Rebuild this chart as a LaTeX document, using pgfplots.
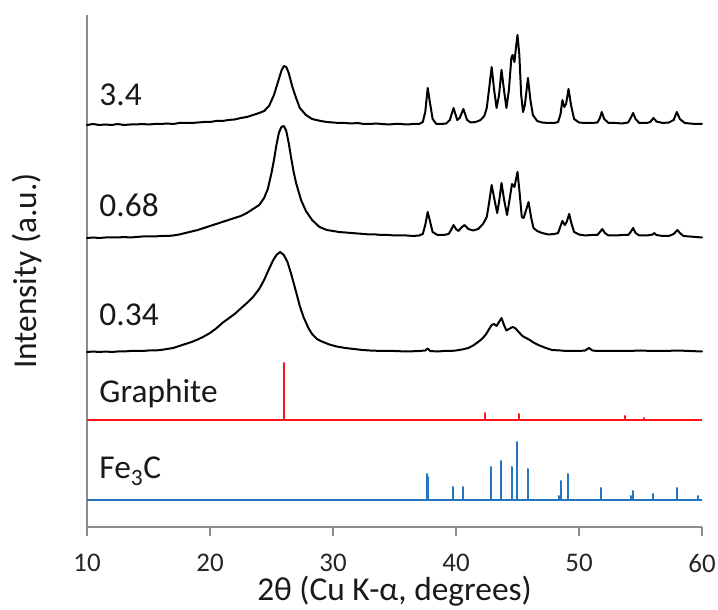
\documentclass[border=0pt]{standalone}
\usepackage{pgfplots}
\pgfplotsset{compat=1.18}
\usepackage{fontspec}
\setmainfont{Carlito}
\definecolor{fered}{RGB}{255,20,30}
\definecolor{feblue}{RGB}{36,117,196}
\definecolor{axgray}{RGB}{140,140,140}
\begin{document}
\begin{tikzpicture}
\useasboundingbox (0,0) rectangle (718bp,610bp);
\begin{axis}[
  at={(87bp,83bp)}, anchor=south west,
  scale only axis, width=615bp, height=512bp,
  xmin=10, xmax=60, ymin=83, ymax=595,
  axis x line*=bottom, axis y line*=left,
  axis line style={-, draw=axgray, line width=1.5bp},
  ytick=\empty,
  xtick={10,20,30,40,50,60},
  tick align=outside, major tick length=9bp,
  tick style={draw=axgray, line width=1.5bp},
  /pgf/number format/assume math mode=true,
  xticklabel style={font=\fontsize{27}{27}\selectfont, text=black!85, anchor=north, inner sep=0pt, yshift=-18bp},
  xlabel={2θ (Cu K-α, degrees)},
  xlabel style={font=\fontsize{33.5}{33.5}\selectfont, text=black!90, at={(axis description cs:0.5,-0.1445)}, anchor=base},
  ylabel={Intensity (a.u.)},
  ylabel style={font=\fontsize{33.5}{33.5}\selectfont, text=black!90, at={(axis description cs:-0.0821,0.5)}, anchor=base},
  clip=false,
  every axis plot/.append style={line join=round, line cap=round},
]
% 3.4
\addplot[black, line width=2bp] table {
x y
10 485
10.5 486
11 485
11.5 485.5
12 485
12.5 486
13 485
13.5 485.5
14 485.5
14.5 486
15 485.5
15.5 486
16 486
16.5 486.5
17 486
17.5 487
18 487
18.5 487
19 487.5
19.5 488
20 488
20.5 489
21 489
21.5 490
22 490.5
22.5 492
23 493
23.5 495
24 497
24.4 499
24.8 504
25.2 515
25.5 527
25.8 539
26.0 544
26.2 543
26.4 537
26.7 523
27.0 512
27.3 502
27.8 495
28.3 491
29 489
29.5 488
30 487.5
30.5 487
31 487
31.5 486.5
32 487
32.5 486
33 486
33.5 486.5
34 486
34.5 485.5
35 486
35.5 486
36 485.5
36.5 486
37 486
37.3 488
37.5 498
37.7 522
37.9 506
38.1 491
38.4 486
38.8 486
39.2 486.5
39.5 490
39.8 502
40.1 490
40.3 492
40.6 501
40.9 490
41.2 487.5
41.6 488
42.0 490
42.3 494
42.5 502
42.7 522
42.9 543
43.1 520
43.3 502
43.5 515
43.7 540
43.9 520
44.1 502
44.3 520
44.5 552
44.6 555
44.75 548
44.9 565
45.0 575
45.15 555
45.3 515
45.45 498
45.6 505
45.85 532
46.05 510
46.25 495
46.6 489
47 487.5
47.5 487
48 487
48.3 488
48.5 496
48.65 510
48.8 503
48.95 506
49.15 521
49.35 505
49.6 491
50 487.5
50.5 487
51 487
51.5 487.5
51.7 492
51.85 498
52.05 491
52.4 487
53 487
53.5 486.5
54 487.5
54.2 492
54.4 497
54.6 491
54.9 487
55.5 487
55.8 488
56.05 492
56.3 488.5
56.8 487
57.3 487.5
57.7 490
57.95 498
58.2 491
58.6 487
59 486.5
59.5 486
60 486
};
% 0.68
\addplot[black, line width=2bp] table {
x y
10 372
10.5 372.5
11 372
11.5 372.5
12 372.5
12.5 372.5
13 373
13.5 372.5
14 373
14.5 373.5
15 373.5
15.5 373.5
16 374
16.5 374
17 374.5
17.5 375.5
18 377
18.5 378.5
19 380
19.5 382
20 384
20.5 386
21 388
21.5 390
22 392
22.5 394
23 397
23.5 401
24.0 405
24.4 412
24.7 421
25.0 437
25.2 450
25.4 465
25.6 477
25.8 483
26.0 484
26.2 479
26.4 467
26.6 452
26.8 438
27.0 427
27.4 410
27.8 399
28.3 390
28.9 383
29.5 380
30 379
30.5 378
31 377.5
31.5 377
32 376.5
32.5 376
33 375.5
33.5 375.5
34 375
34.5 375
35 374.5
35.5 374.5
36 374.5
36.5 374
37 374.5
37.3 376
37.5 385
37.7 398
37.9 388
38.1 378
38.5 375
39 375
39.4 376
39.6 380
39.8 385
40.0 381
40.2 379
40.4 382
40.7 385
41.0 381
41.4 379.5
41.8 381
42.2 386
42.5 393
42.7 408
42.9 425
43.1 412
43.35 397
43.5 408
43.7 427
43.9 411
44.15 395
44.35 410
44.55 426
44.75 423
44.9 432
45.0 438
45.15 420
45.35 393
45.5 392
45.7 400
45.9 408
46.1 393
46.3 382
46.6 379
47 377
47.5 375.5
48 376
48.3 377
48.5 384
48.65 389
48.85 385
49.0 388
49.2 396
49.4 386
49.6 378
50 375.5
50.5 374.5
51 375
51.5 375
51.7 378
51.9 381
52.1 377
52.4 374.5
53 374.5
53.5 375
54 375
54.2 378
54.4 382
54.6 377
54.9 374.5
55.5 374.5
56 375.5
56.1 377
56.3 375
56.8 374
57.3 374
57.7 376
58.0 380
58.2 377
58.5 374
59 373.5
59.5 373
60 372.5
};
% 0.34
\addplot[black, line width=2bp] table {
x y
10 258
10.5 258.5
11 258
11.5 258.5
12 258
12.5 258.5
13 258.5
13.5 259
14 259
14.5 259
15 259.5
15.5 259.5
16 260
16.5 261
17 262
17.5 264
18 266
18.5 268
19 270.5
19.5 273.5
20 277
20.5 281.5
21 287
21.5 291.5
22 296
22.5 301.5
23 307
23.5 313
24 321
24.4 330
24.8 341
25.1 349
25.4 355
25.7 358
26.0 355
26.3 348
26.6 336
27.0 318
27.3 304
27.6 293
28.0 282
28.3 276
28.7 271
29.0 269
29.7 265.5
30.3 263.5
31 262
31.7 261
32.4 260
33 259.5
34 259
35 259
36 258.5
37 259
37.5 259.5
37.7 261.5
37.9 259
38.5 258.5
39 259
39.5 259
40 259.5
40.5 260.5
41 262
41.4 264.5
41.8 268
42.1 271
42.4 275
42.7 281
42.9 285
43.1 286
43.3 284
43.5 288
43.7 292
43.9 285
44.1 279.5
44.3 281
44.6 283
44.8 282
45.1 278
45.4 274
45.7 272
46.0 270
46.3 267.5
46.7 265
47.2 262.5
47.8 260
48.5 259.5
49 259
49.5 259
50 259
50.5 259.5
50.8 262
51.1 259.5
51.5 259
52 259
53 259
54 259
55 259.5
56 259
57 259
58 259.5
59 259
60 258.5
};
% Graphite reference
\addplot[fered, line width=2bp, line cap=butt] coordinates {
(10,190) (26.05,190) (26.05,247) (26.05,190)
(42.35,190) (42.35,197) (42.35,190)
(45.1,190) (45.1,196) (45.1,190)
(53.7,190) (53.7,194) (53.7,190)
(55.3,190) (55.3,192) (55.3,190)
(60,190)
};
% Fe3C reference
\addplot[feblue, line width=2bp, line cap=butt] coordinates {
(10,110)
(37.62,110) (37.62,136) (37.62,110)
(37.75,110) (37.75,133) (37.75,110)
(39.73,110) (39.73,123) (39.73,110)
(40.6,110) (40.6,123) (40.6,110)
(42.82,110) (42.82,143) (42.82,110)
(43.69,110) (43.69,149) (43.69,110)
(44.53,110) (44.53,143) (44.53,110)
(44.96,110) (44.96,168) (44.96,110)
(45.85,110) (45.85,141) (45.85,110)
(48.37,110) (48.37,114) (48.37,110)
(48.54,110) (48.54,129) (48.54,110)
(49.11,110) (49.11,136) (49.11,110)
(51.76,110) (51.76,122) (51.76,110)
(54.2,110) (54.2,114) (54.2,110)
(54.36,110) (54.36,119) (54.36,110)
(55.99,110) (55.99,116) (55.99,110)
(57.94,110) (57.94,122) (57.94,110)
(59.7,110) (59.7,114) (59.7,110)
(60,110)
};
\begin{scope}[every node/.style={font=\fontsize{33.5}{33.5}\selectfont, text=black!90, anchor=base west, inner sep=0pt}]
\node at (axis cs:11.0,504) {3.4};
\node at (axis cs:11.0,393) {0.68};
\node at (axis cs:11.0,284) {0.34};
\node at (axis cs:11.0,207) {Graphite};
\node at (axis cs:11.0,131) {Fe\textsubscript{3}C};
\end{scope}
\end{axis}
\end{tikzpicture}
\end{document}
